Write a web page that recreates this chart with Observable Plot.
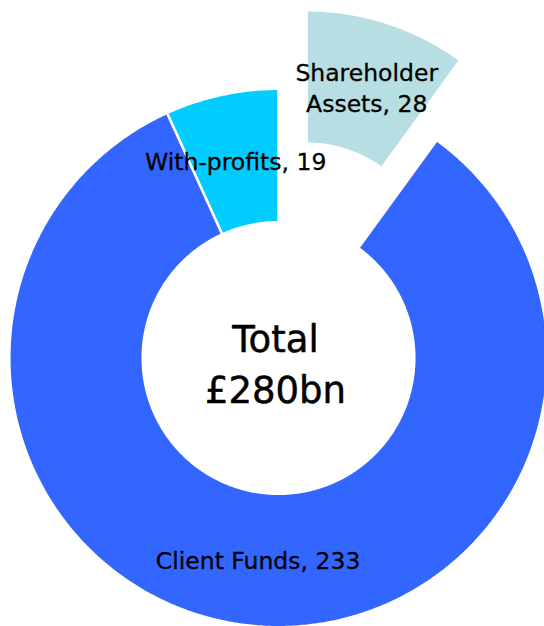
<!DOCTYPE html>
<html>
<head>
<meta charset="utf-8">
<script src="https://cdn.jsdelivr.net/npm/d3@7"></script>
<script src="https://cdn.jsdelivr.net/npm/@observablehq/plot@0.6"></script>
<style>
  html, body { margin: 0; padding: 0; background: #fff; }
  #chart svg { display: block; }
</style>
</head>
<body>
<div id="chart"></div>
<script>
// ---- data ----
const names = ["Shareholder Assets", "Client Funds", "With-profits"];
const values = [28, 233, 19];
const labels = ["Shareholder\nAssets, 28", "Client Funds, 233", "With-profits, 19"];
const centerLines = ["Total", "£280bn"];
const exploded = ["Shareholder Assets"];

// ---- styles / geometry ----
const colors = {"Shareholder Assets": "#B7DEE3", "Client Funds": "#3366FF", "With-profits": "#00CCFF"};
const W = 544, H = 626, cx = 278, cy = 357.5;
const geom = {
  normal: {outer: 269.2, inner: 135.8, offset: 0},
  exploded: {outer: 261.2, inner: 127.8, offset: 91}
};

const total = d3.sum(values);
let acc = 0;
const slices = values.map((v, i) => {
  const a0 = acc / total * 2 * Math.PI;
  acc += v;
  const a1 = acc / total * 2 * Math.PI;
  const g = exploded.includes(names[i]) ? geom.exploded : geom.normal;
  const mid = (a0 + a1) / 2;
  return {name: names[i], value: v, label: labels[i], a0, a1, mid, ...g,
          ox: g.offset * Math.sin(mid), oy: g.offset * Math.cos(mid)};
});

function ring(s) {
  const pts = [];
  const n = Math.max(2, Math.ceil((s.a1 - s.a0) / (Math.PI / 360)));
  for (let k = 0; k <= n; k++) {
    const a = s.a0 + (s.a1 - s.a0) * k / n;
    pts.push({name: s.name, x: s.ox + s.outer * Math.sin(a), y: s.oy + s.outer * Math.cos(a)});
  }
  for (let k = n; k >= 0; k--) {
    const a = s.a0 + (s.a1 - s.a0) * k / n;
    pts.push({name: s.name, x: s.ox + s.inner * Math.sin(a), y: s.oy + s.inner * Math.cos(a)});
  }
  pts.push({...pts[0]});
  return pts;
}

const drawOrder = ["Client Funds", "With-profits", "Shareholder Assets"];
const sliceMarks = drawOrder.map(nm => {
  const s = slices.find(d => d.name === nm);
  return Plot.line(ring(s), {x: "x", y: "y", fill: colors[nm], stroke: "white", strokeWidth: 2.5, curve: "linear"});
});

const labelRows = slices.map(s => {
  const rr = (s.outer + s.inner) / 2;
  return {label: s.label, x: s.ox + rr * Math.sin(s.mid), y: s.oy + rr * Math.cos(s.mid)};
});

const chart = Plot.plot({
  width: W,
  height: H,
  margin: 0,
  x: {type: "linear", domain: [-cx, W - cx], range: [0, W], axis: null},
  y: {type: "linear", domain: [-(H - cy), cy], range: [H, 0], axis: null},
  style: {background: "white", fontFamily: "DejaVu Sans"},
  marks: [
    ...sliceMarks,
    Plot.text(labelRows, {x: "x", y: "y", text: "label", fontSize: 23.5, lineHeight: 1.32, fill: "black", stroke: "black", strokeWidth: 0.3, fontFamily: "DejaVu Sans"}),
    Plot.text([centerLines.join("\n")], {x: () => 0, y: () => 0, text: d => d, fontSize: 37, lineHeight: 1.378, dx: -3, dy: 3, fill: "black", stroke: "black", strokeWidth: 0.5, fontFamily: "DejaVu Sans"})
  ]
});
document.getElementById("chart").appendChild(chart);
</script>
</body>
</html>
